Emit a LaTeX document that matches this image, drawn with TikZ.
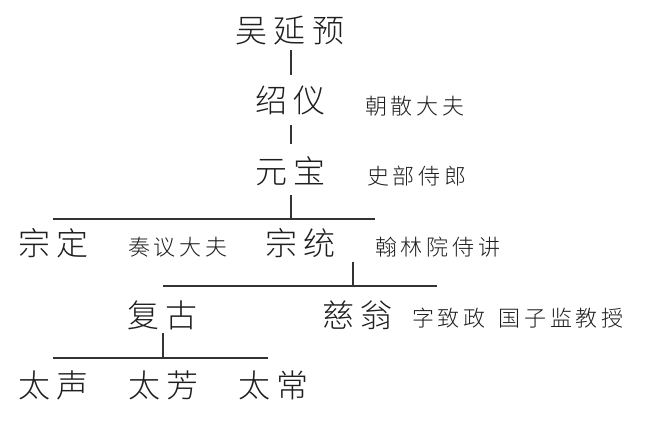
\documentclass[tikz,border=0pt]{standalone}
\usepackage{fontspec}
\newfontfamily\bigf[LetterSpace=21]{Noto Sans CJK SC Light}
\newfontfamily\smallf[LetterSpace=17]{Noto Sans CJK SC Light}
\definecolor{ink}{HTML}{1E1E1E}
\definecolor{linec}{HTML}{333333}
\begin{document}
\begin{tikzpicture}[x=1pt,y=-1pt,
  big/.style={font={\bigf\fontsize{32}{36}\selectfont},anchor=base west,inner sep=0pt,text=ink},
  small/.style={font={\smallf\fontsize{22}{26}\selectfont},anchor=base west,inner sep=0pt,text=ink},
  conn/.style={draw=linec,line width=1.3pt},
  bar/.style={draw=linec,line width=1.8pt}]
\useasboundingbox (0,0) rectangle (646,425);
% people
\node[big] (wu) at (235,42.5) {吴延预};
\node[big] (shao) at (255,112.5) {绍仪};
\node[small] (shaoT) at (365,115) {朝散大夫};
\node[big] (yuan) at (255,184) {元宝};
\node[small] (yuanT) at (367,185) {史部侍郎};
\node[big] (zd) at (18,255.5) {宗定};
\node[small] (zdT) at (128,255) {奏议大夫};
\node[big] (zt) at (265,255.5) {宗统};
\node[small] (ztT) at (375,255) {翰林院侍讲};
\node[big] (fg) at (127,327.5) {复古};
\node[big] (cw) at (322,327.5) {慈翁};
\node[small] (cwT) at (412,326) {字致政\hspace{13pt}国子监教授};
\node[big] (ts) at (18,397.5) {太声};
\node[big] (tf) at (128,397.5) {太芳};
\node[big] (tc) at (238,397.5) {太常};
% junctions and bar ends
\coordinate (j1) at (291,219);
\coordinate (b1l) at (53,219);
\coordinate (b1r) at (375,219);
\coordinate (j2) at (353,286);
\coordinate (b2l) at (163,286);
\coordinate (b2r) at (437,286);
\coordinate (j3) at (163,358);
\coordinate (b3l) at (53,358);
\coordinate (b3r) at (268,358);
% connectors
\draw[conn,shorten <=5pt,shorten >=11pt] (wu.south -| j1) -- (shao.north -| j1);
\draw[conn,shorten <=10pt,shorten >=13pt] (shao.south -| j1) -- (yuan.north -| j1);
\draw[conn,shorten <=8pt] (yuan.south -| j1) -- (j1);
\draw[bar] (b1l) -- (b1r);
\draw[conn,shorten <=4pt] (zt.south -| j2) -- (j2);
\draw[bar] (b2l) -- (b2r);
\draw[conn,shorten <=3pt] (fg.south -| j3) -- (j3);
\draw[bar] (b3l) -- (b3r);
\end{tikzpicture}
\end{document}
